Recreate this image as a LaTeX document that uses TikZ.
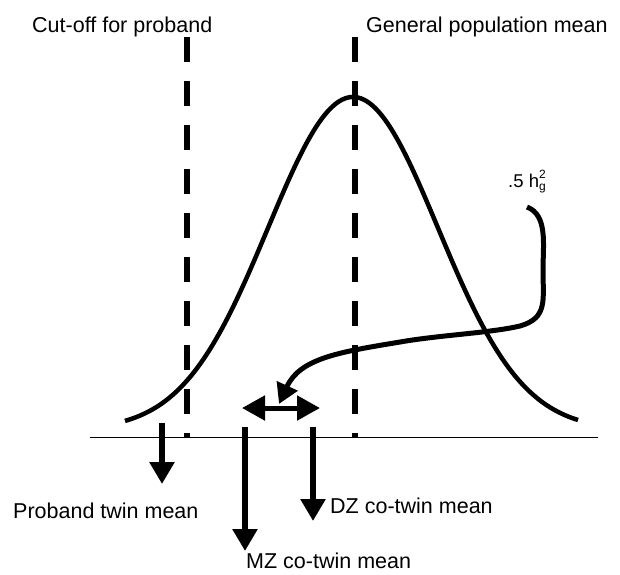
\documentclass[tikz,border=0pt]{standalone}
\usepackage{fontspec}
\setmainfont{Liberation Sans}
\usetikzlibrary{arrows.meta}
\tikzset{
  lbl/.style={inner sep=0pt, anchor=base west, font=\fontsize{21.5}{26}\selectfont},
  dashline/.style={line width=6pt, dash pattern=on 25pt off 19pt},
  bigarrow/.style={line width=6pt, -{Triangle[length=22pt,width=24pt]}},
  dblarrow/.style={line width=5pt, {Triangle[length=23pt,width=24pt]}-{Triangle[length=23pt,width=24pt]}},
  curvearrow/.style={line width=5pt, -{Triangle[length=20pt,width=22pt]}},
  bell/.style={line width=4.5pt, line join=round}
}
\begin{document}
\begin{tikzpicture}[x=1pt,y=-1pt]
\useasboundingbox (0,0) rectangle (620,574);
% labels
\node[lbl] (cutoff) at (32,32) {Cut-off for proband};
\node[lbl] (genmean) at (366,32) {General population mean};
\node[lbl] (proband) at (13,518) {Proband twin mean};
\node[lbl] (dz) at (330,513) {DZ co-twin mean};
\node[lbl] (mz) at (246,568) {MZ co-twin mean};
\node[inner sep=0pt, anchor=base west, font=\fontsize{18.5}{20}\selectfont] (h2) at (508,187)
  {.5 h\raisebox{-3pt}{\fontsize{12}{12}\selectfont g}\llap{\raisebox{9pt}{\fontsize{12}{12}\selectfont 2}}};
% baseline
\coordinate (axL) at (90,437);
\coordinate (axR) at (598,437);
\draw[line width=1pt] (axL) -- (axR);
% dashed lines
\coordinate (cutTop) at (187,37);
\coordinate (cutBot) at (187,438);
\coordinate (meanTop) at (355,37);
\coordinate (meanBot) at (355,438);
\draw[dashline] (cutTop) -- (cutBot);
\draw[dashline] (meanTop) -- (meanBot);
% bell curve
\draw[bell] plot[domain=125:578, samples=120, smooth] (\x, {430-333*exp(-0.5*((\x-353)/85)^2)});
% vertical arrows
\coordinate (pS) at (162,423);
\coordinate (pE) at (162,484);
\coordinate (mzS) at (245,427);
\coordinate (mzE) at (245,551);
\coordinate (dzS) at (313,427);
\coordinate (dzE) at (313,521);
\draw[bigarrow] (pS) -- (pE);
\draw[bigarrow] (mzS) -- (mzE);
\draw[bigarrow] (dzS) -- (dzE);
% double arrow
\coordinate (dL) at (242,408);
\coordinate (dR) at (320,408);
\draw[dblarrow] (dL) -- (dR);
% curved arrow
\coordinate (cS) at (527,207);
\coordinate (cM1) at (543,270);
\coordinate (cM2) at (520,326);
\coordinate (cM3) at (400,342);
\coordinate (cE) at (279,404);
\draw[curvearrow] (cS) .. controls (548,215) and (543,245) .. (cM1)
  .. controls (543,300) and (548,318) .. (cM2)
  .. controls (490,333) and (440,335) .. (cM3)
  .. controls (340,352) and (300,358) .. (cE);
\end{tikzpicture}
\end{document}
